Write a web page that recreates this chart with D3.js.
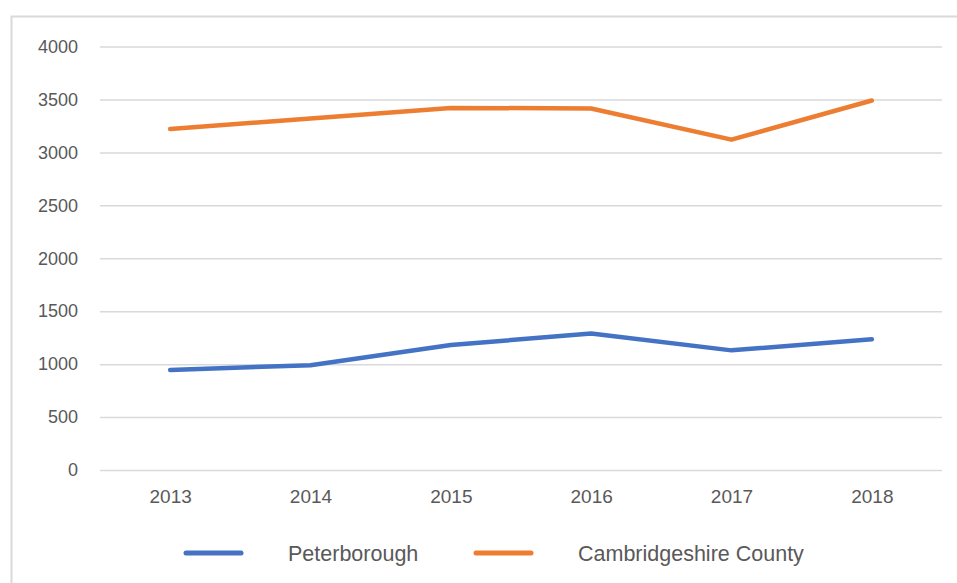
<!DOCTYPE html>
<html>
<head>
<meta charset="utf-8">
<script src="https://cdn.jsdelivr.net/npm/d3@7"></script>
<style>
  body { margin: 0; background: #fff; }
  svg text { font-family: "Liberation Sans", Arial, sans-serif; fill: #595959; }
</style>
</head>
<body>
<svg width="957" height="583"></svg>
<script>
const years = ["2013", "2014", "2015", "2016", "2017", "2018"];
const peterborough = [945, 990, 1180, 1290, 1130, 1235];
const cambridgeshire = [3220, 3320, 3420, 3415, 3120, 3490];
const yTicks = [0, 500, 1000, 1500, 2000, 2500, 3000, 3500, 4000];
const seriesNames = ["Peterborough", "Cambridgeshire County"];
const seriesColors = ["#4472C4", "#ED7D31"];

const svg = d3.select("svg");
var margin = { top: 46.5, right: 15, bottom: 113, left: 100 };
var width = 957 - margin.left - margin.right;   // 842
var height = 583 - margin.top - margin.bottom;  // 423.5

// chart frame (only left and top edges visible in the picture)
svg.append("rect")
    .attr("x", 11.5).attr("y", 16.5)
    .attr("width", 960).attr("height", 600)
    .attr("fill", "none")
    .attr("stroke", "#d9d9d9")
    .attr("stroke-width", 2);

const g = svg.append("g").attr("transform", `translate(${margin.left},${margin.top})`);

const xScale = d3.scalePoint().domain(years).range([0, width]).padding(0.5);
const yScale = d3.scaleLinear().domain([0, 4000]).range([height, 0]);

//y axis with gridlines
const gY = g.append("g")
    .call(d3.axisLeft(yScale).tickValues(yTicks).tickFormat(d3.format("d")).tickSize(-width).tickPadding(22));
gY.select(".domain").remove();
gY.selectAll(".tick line").attr("stroke", "#d9d9d9").attr("stroke-width", 1.5);
gY.selectAll(".tick text").style("font-size", "18px").attr("fill", "#595959");

//x axis labels
const gX = g.append("g")
    .attr("transform", `translate(0,${height})`)
    .call(d3.axisBottom(xScale).tickSize(0).tickPadding(20));
gX.select(".domain").remove();
gX.selectAll(".tick text").style("font-size", "19px").attr("fill", "#595959");

//lines
const line = d3.line()
    .x((d, i) => xScale(years[i]))
    .y(d => yScale(d));

[peterborough, cambridgeshire].forEach((values, i) => {
    g.append("path")
        .datum(values)
        .attr("d", line)
        .attr("fill", "none")
        .attr("stroke", seriesColors[i])
        .attr("stroke-width", 4.5)
        .attr("stroke-linejoin", "round")
        .attr("stroke-linecap", "round");
});

//legend
const legendX = [186, 476];
const legend = svg.append("g").attr("transform", "translate(0,553)");
seriesNames.forEach((name, i) => {
    legend.append("line")
        .attr("x1", legendX[i]).attr("x2", legendX[i] + 55)
        .attr("y1", 0).attr("y2", 0)
        .attr("stroke", seriesColors[i])
        .attr("stroke-width", 5)
        .attr("stroke-linecap", "round");
    legend.append("text")
        .attr("x", legendX[i] + 102)
        .attr("y", 0)
        .attr("dy", "0.35em")
        .style("font-size", "21.5px")
        .text(name);
});
</script>
</body>
</html>
